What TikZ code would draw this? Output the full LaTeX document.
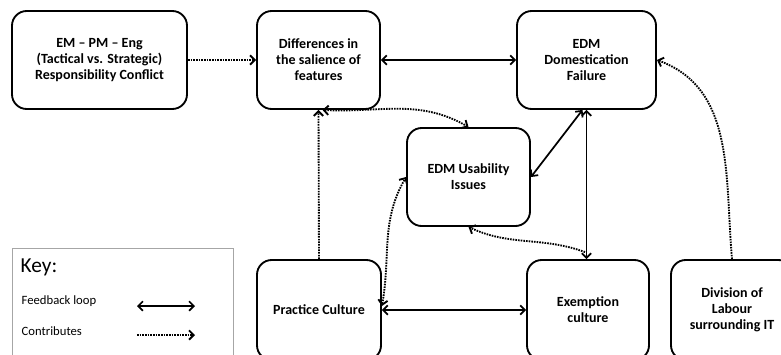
\documentclass[tikz,border=0pt]{standalone}
\usepackage{fontspec}
\setmainfont{Carlito}
\usetikzlibrary{arrows.meta}

\begin{document}
\begin{tikzpicture}[x=0.75pt, y=0.75pt,
	>={Straight Barb[length=3.5pt,width=7pt]},
	factor/.style={draw, line width=1.4pt, rounded corners=11pt, align=center, inner sep=2pt, minimum height=73.5pt, font=\fontsize{10.5}{12}\selectfont\bfseries},
	feedback/.style={<->, line width=1.3pt},
	contrib/.style={->, line width=1.4pt, dash pattern=on 1.2pt off 0.8pt},
	keytext/.style={anchor=west, font=\fontsize{9.5}{11}\selectfont}]
			\useasboundingbox (0,0) rectangle (781,-354);
			\clip (0,0) rectangle (781,-354);
			
			\node[factor, minimum width=131.25pt] (conflict) at (99.5,-60) {EM – PM – Eng\\(Tactical vs. Strategic)\\Responsibility Conflict};
			\node[factor, minimum width=92.25pt] (salience) at (318.5,-60) {Differences in\\the salience of\\features};
			\node[factor, minimum width=104.25pt] (failure) at (586.5,-60) {EDM\\Domestication\\Failure};
			\node[factor, minimum width=92.25pt] (usability) at (468.5,-177) {EDM Usability\\Issues};
			\node[factor, minimum width=93pt, minimum height=75pt] (practice) at (319,-310) {Practice Culture};
			\node[factor, minimum width=91.5pt, minimum height=75pt] (exemption) at (588,-310) {Exemption\\culture};
			\node[factor, minimum width=91.5pt, minimum height=75pt] (labour) at (732,-310) {Division of\\Labour\\surrounding IT};
			
			\node[draw=gray!70, line width=0.6pt, minimum width=165.75pt, minimum height=91.5pt, inner sep=0pt] (keybox) at (122.5,-309) {};
			\node[anchor=west, font=\fontsize{16}{18}\selectfont] (keytitle) at (16,-267) {Key:};
			\node[keytext] (loop) at (17,-301) {Feedback loop};
			\node[keytext] (contributes) at (17,-331) {Contributes};
			\coordinate (loopa) at (137,-306);
			\coordinate (loopb) at (195,-306);
			\coordinate (contra) at (137,-335);
			\coordinate (contrb) at (195,-335);
			
			\draw[contrib] (conflict) -- (salience);
			\draw[feedback] (salience) -- (failure);
			\draw[contrib] (practice.north) -- (salience.south);
			\draw[contrib, <->] ([xshift=3pt]salience.south) to[out=-3, in=150] (usability.north);
			\draw[contrib, <->] ([yshift=3pt]practice.east) to[out=80, in=240] (usability.west);
			\draw[feedback] (practice) -- (exemption);
			\draw[feedback] (usability.east) -- ([xshift=-3pt]failure.south);
			\draw[feedback] (failure.south) -- (failure.south |- exemption.north);
			\draw[contrib] ([shift={(-3,7)}]exemption.north) to[out=160, in=-25] (usability.south);
			\draw[contrib] (labour.north) to[out=95, in=-20] (failure.east);
			
			\draw[feedback] (loopa) -- (loopb);
			\draw[contrib] (contra) -- (contrb);
		\end{tikzpicture}
\end{document}
